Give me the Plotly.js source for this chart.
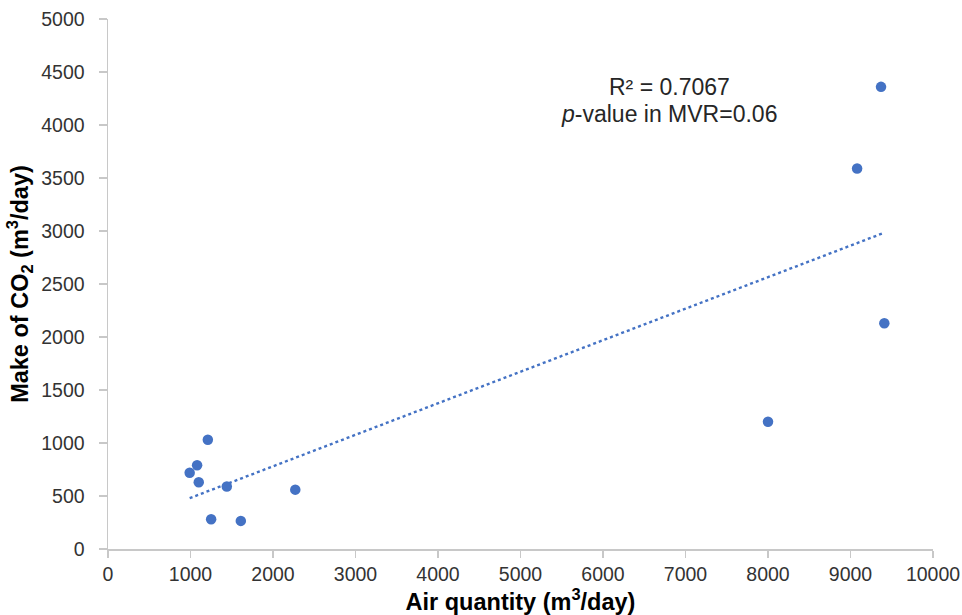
<!DOCTYPE html>
<html>
<head>
<meta charset="utf-8">
<script src="https://cdn.plot.ly/plotly-3.0.1.min.js"></script>
<style>html,body{margin:0;padding:0;background:#fff;}#chart{width:962px;height:615px;}</style>
</head>
<body>
<div id="chart"></div>
<script>
// Air quantity (m3/day)
const airQuantity = [990, 1080, 1100, 1210, 1250, 1440, 1610, 2270, 8000, 9080, 9370, 9410];
// Make of CO2 (m3/day)
const co2Make = [720, 790, 630, 1030, 280, 590, 265, 560, 1200, 3590, 4360, 2130];
const xTicks = [0,1000,2000,3000,4000,5000,6000,7000,8000,9000,10000];
const yTicks = [0,500,1000,1500,2000,2500,3000,3500,4000,4500,5000];

// linear least-squares trendline over the data range
const n = airQuantity.length;
const mx = airQuantity.reduce((a,b)=>a+b,0)/n;
const my = co2Make.reduce((a,b)=>a+b,0)/n;
let sxy=0, sxx=0;
for (let i=0;i<n;i++){ sxy += (airQuantity[i]-mx)*(co2Make[i]-my); sxx += (airQuantity[i]-mx)**2; }
const slope = sxy/sxx, intercept = my - slope*mx;
const xMin = Math.min(...airQuantity), xMax = Math.max(...airQuantity);
const trendX = [xMin, xMax];
const trendY = trendX.map(v => intercept + slope*v);

const blue = '#4472C4';
const traces = [
  {x: trendX, y: trendY, type:'scatter', mode:'lines',
   line:{color: blue, width:2.4, dash:'dot'}, hoverinfo:'skip'},
  {x: airQuantity, y: co2Make, type:'scatter', mode:'markers',
   marker:{color: blue, size:10.5}}
];
const fam = 'Liberation Sans, Arial, sans-serif';
const tickFont = {family:fam, size:19.5, color:'#333333'};
const titleFont = {family:fam, size:23.5, color:'#000'};
const layout = {
  width:962, height:615,
  margin:{l:108, r:29, t:19, b:66},
  paper_bgcolor:'#fff', plot_bgcolor:'#fff',
  showlegend:false,
  xaxis:{range:[0,10000], tickvals:xTicks, ticktext:xTicks.map(String),
    showgrid:false, zeroline:false, showline:true, linecolor:'#c8c8c8', linewidth:1.5,
    ticks:'outside', ticklen:7, tickcolor:'#c8c8c8', tickwidth:1.5, tickfont:tickFont,
    title:{text:'<b>Air quantity (m<sup>3</sup>/day)</b>', font:titleFont, standoff:2}},
  yaxis:{range:[0,5000], tickvals:yTicks, ticktext:yTicks.map(String),
    showgrid:false, zeroline:false, showline:true, linecolor:'#c8c8c8', linewidth:1.5,
    ticks:'outside', ticklen:8, tickcolor:'#c8c8c8', tickwidth:1.5, tickfont:tickFont,
    ticklabelstandoff:10,
    title:{text:'<b>Make of CO<sub>2</sub> (m<sup>3</sup>/day)</b>', font:titleFont, standoff:6}},
  annotations:[
    {x:0.68, y:0.871, xref:'paper', yref:'paper', xanchor:'center', yanchor:'middle', showarrow:false,
     text:'R² = 0.7067', font:{family:fam, size:23, color:'#262626'}},
    {x:0.68, y:0.821, xref:'paper', yref:'paper', xanchor:'center', yanchor:'middle', showarrow:false,
     text:'<i>p</i>-value in MVR=0.06', font:{family:fam, size:23, color:'#262626'}}
  ]
};
Plotly.newPlot('chart', traces, layout, {displayModeBar:false, staticPlot:true});
</script>
</body>
</html>
